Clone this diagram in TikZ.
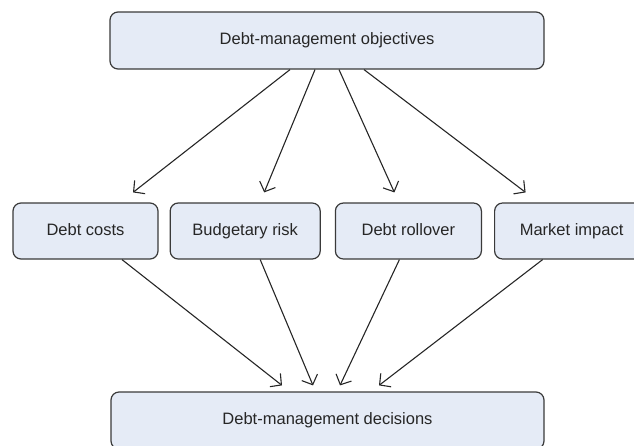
\documentclass[tikz,border=0pt]{standalone}
\usepackage{fontspec}
\setmainfont{Liberation Sans}
\usepackage{tikz}
\usetikzlibrary{
	positioning,
	arrows.meta
}
\definecolor{boxfill}{HTML}{E5EBF6}
\definecolor{boxline}{HTML}{3A3A3A}
\definecolor{inktext}{HTML}{262626}

\tikzset{
	stage/.style={draw=boxline, fill=boxfill, line width=1.2pt, rounded corners=8pt,
		inner sep=0pt, minimum height=57pt, text=inktext, text height=12pt, text depth=3.5pt,
		font=\fontsize{16.5}{20}\selectfont},
	link/.style={draw=inktext, line width=1.1pt, -{Straight Barb[length=8pt,width=17pt]}}
}

\begin{document}
\begin{tikzpicture}[x=1pt, y=-1pt]
		\useasboundingbox (0,0) rectangle (634,445);

		\node[stage, minimum width=434pt] (objectives) at (327,40.5) {Debt-management objectives};

		\node[stage, minimum width=145pt, minimum height=56pt] (costs) at (85.5,231) {Debt costs};
		\node[stage, minimum width=150pt, minimum height=56pt, right=11pt of costs] (risk) {Budgetary risk};
		\node[stage, minimum width=146pt, minimum height=56pt, right=14pt of risk] (rollover) {Debt rollover};
		\node[stage, minimum width=154pt, minimum height=56pt, right=12pt of rollover] (impact) {Market impact};

		\node[stage, minimum width=433pt] (decisions) at (327.5,420.5) {Debt-management decisions};

		% objectives feed each criterion
		\draw[link] ([xshift=-37pt]objectives.south) -- ([xshift=47.5pt, yshift=10pt]costs.north);
		\draw[link] ([xshift=-12pt]objectives.south) -- ([xshift=19pt, yshift=10pt]risk.north);
		\draw[link] ([xshift=12pt]objectives.south) -- ([xshift=-14pt, yshift=10pt]rollover.north);
		\draw[link] ([xshift=37pt]objectives.south) -- ([xshift=-46pt, yshift=10pt]impact.north);

		% criteria feed the decisions
		\draw[link] ([xshift=36.5pt]costs.south) -- ([xshift=-45.5pt, yshift=6pt]decisions.north);
		\draw[link] ([xshift=15pt]risk.south) -- ([xshift=-14.5pt, yshift=6pt]decisions.north);
		\draw[link] ([xshift=-9pt]rollover.south) -- ([xshift=12.5pt, yshift=6pt]decisions.north);
		\draw[link] ([xshift=-29pt]impact.south) -- ([xshift=51.5pt, yshift=6pt]decisions.north);
	\end{tikzpicture}
\end{document}
